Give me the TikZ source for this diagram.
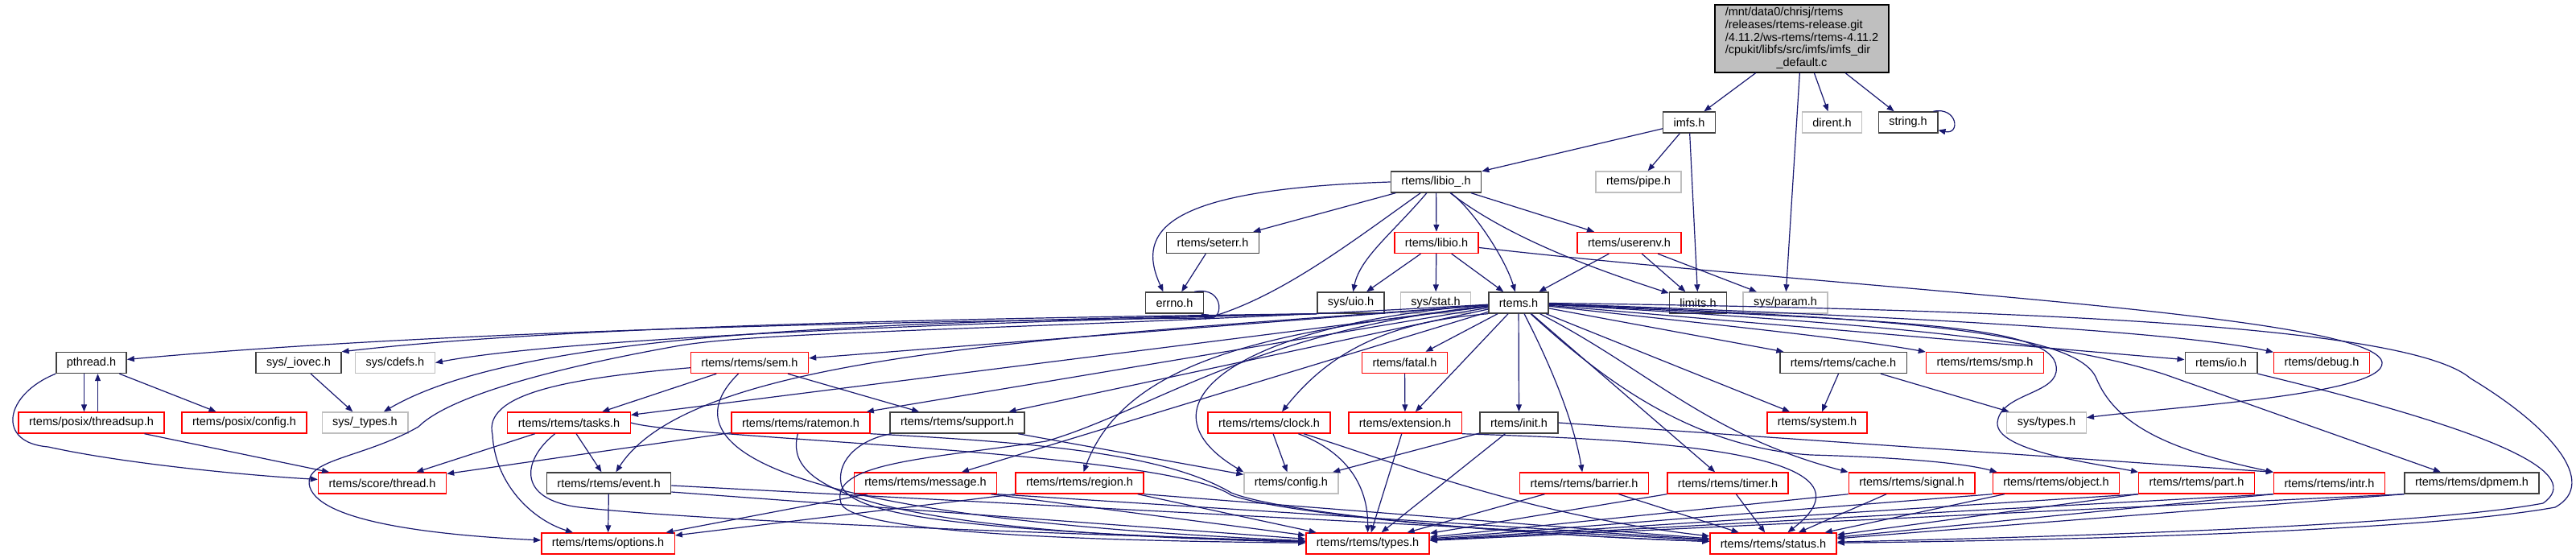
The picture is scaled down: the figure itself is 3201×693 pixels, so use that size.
\documentclass[tikz,border=0pt]{standalone}
\usepackage{fontspec}
\setmainfont{Liberation Sans}
\usetikzlibrary{arrows.meta}
\definecolor{edgeblue}{HTML}{191970}
\definecolor{nodegrey}{HTML}{BFBFBF}
\newcommand{\hdrfont}{\fontsize{14.5pt}{15.6pt}\selectfont}
\begin{document}
\begin{tikzpicture}
[
x=1pt, y=-1pt,
every node/.style={font=\hdrfont},
Plain/.style={rectangle, draw=black!75, fill=white, line width=1.4pt, inner xsep=13pt, inner ysep=0pt, minimum height=26pt},
Trunc/.style={Plain, draw=red},
Extern/.style={Plain, draw=nodegrey},
Root/.style={Plain, draw=black, fill=nodegrey, minimum width=216pt, minimum height=84pt, inner xsep=0pt},
Dep/.style={-{Triangle[length=9pt,width=7pt]}, draw=edgeblue, line width=1.2pt}
]
\path[use as bounding box, fill=white] (0,0) rectangle (3201,693);

\node[Root] (main) at (2239,48) {\begin{tabular}{@{}l@{}}/mnt/data0/chrisj/rtems\\/releases/rtems-release.git\\/4.11.2/ws-rtems/rtems-4.11.2\\/cpukit/libfs/src/imfs/imfs\_dir\\\multicolumn{1}{@{}c@{}}{\_default.c}\end{tabular}};

\node[Plain]  (imfs)      at (2099,152)     {imfs.h};
\node[Extern] (dirent)    at (2276.5,152)   {dirent.h};
\node[Plain]  (strh)      at (2371,152)     {string.h};
\node[Plain]  (libiou)    at (1784.5,226)   {rtems/libio\_.h};
\node[Extern] (pipe)      at (2036,226)     {rtems/pipe.h};
\node[Plain]  (seterr)    at (1507,301.5)   {rtems/seterr.h};
\node[Trunc]  (libio)     at (1785,301.5)   {rtems/libio.h};
\node[Trunc]  (userenv)   at (2024.5,301.5) {rtems/userenv.h};
\node[Plain]  (errno)     at (1459.5,376)   {errno.h};
\node[Plain]  (uio)       at (1678.5,376)   {sys/uio.h};
\node[Extern] (stat)      at (1784,376)     {sys/stat.h};
\node[Plain]  (rtems)     at (1887,376)     {rtems.h};
\node[Plain]  (limits)    at (2110,376)     {limits.h};
\node[Extern] (param)     at (2218.5,376)   {sys/param.h};
\node[Plain]  (pthread)   at (113.5,450.5)  {pthread.h};
\node[Plain]  (iovec)     at (371,450.5)    {sys/\_iovec.h};
\node[Extern] (cdefs)     at (491,450.5)    {sys/cdefs.h};
\node[Trunc]  (sem)       at (931.5,450.5)  {rtems/rtems/sem.h};
\node[Trunc]  (fatal)     at (1745.5,450.5) {rtems/fatal.h};
\node[Plain]  (cache)     at (2290.5,450.5) {rtems/rtems/cache.h};
\node[Trunc]  (smp)       at (2466.5,450.5) {rtems/rtems/smp.h};
\node[Plain]  (io)        at (2760,450.5)   {rtems/io.h};
\node[Trunc]  (debug)     at (2885,450.5)   {rtems/debug.h};
\node[Trunc]  (threadsup) at (113.5,525)    {rtems/posix/threadsup.h};
\node[Trunc]  (pconfig)   at (303.5,525)    {rtems/posix/config.h};
\node[Extern] (stypes)    at (453.5,525)    {sys/\_types.h};
\node[Trunc]  (tasks)     at (707,525)      {rtems/rtems/tasks.h};
\node[Trunc]  (ratemon)   at (995,525)      {rtems/rtems/ratemon.h};
\node[Plain]  (support)   at (1189.5,525)   {rtems/rtems/support.h};
\node[Trunc]  (clock)     at (1577,525)     {rtems/rtems/clock.h};
\node[Trunc]  (extension) at (1746,525)     {rtems/extension.h};
\node[Plain]  (init)      at (1887.5,525)   {rtems/init.h};
\node[Trunc]  (system)    at (2258,525)     {rtems/system.h};
\node[Extern] (systypes)  at (2543,525)     {sys/types.h};
\node[Trunc]  (thread)    at (475,600)      {rtems/score/thread.h};
\node[Plain]  (event)     at (756.5,600)    {rtems/rtems/event.h};
\node[Trunc]  (message)   at (1150,600)     {rtems/rtems/message.h};
\node[Trunc]  (region)    at (1341.5,600)   {rtems/rtems/region.h};
\node[Extern] (config)    at (1604.5,600)   {rtems/config.h};
\node[Trunc]  (barrier)   at (1968.5,600)   {rtems/rtems/barrier.h};
\node[Trunc]  (timer)     at (2147,600)     {rtems/rtems/timer.h};
\node[Trunc]  (signal)    at (2375.5,600)   {rtems/rtems/signal.h};
\node[Trunc]  (object)    at (2555,600)     {rtems/rtems/object.h};
\node[Trunc]  (part)      at (2729.5,600)   {rtems/rtems/part.h};
\node[Trunc]  (intr)      at (2894.5,600)   {rtems/rtems/intr.h};
\node[Plain]  (dpmem)     at (3071.5,600)   {rtems/rtems/dpmem.h};
\node[Trunc]  (options)   at (755.5,675)    {rtems/rtems/options.h};
\node[Trunc]  (types)     at (1699.5,675)   {rtems/rtems/types.h};
\node[Trunc]  (status)    at (2203.5,675)   {rtems/rtems/status.h};

\draw[Dep] (main) -- (imfs);
\draw[Dep] (main) -- (dirent);
\draw[Dep] (main) -- (strh);
\draw[Dep] (main) -- (param);
\draw[Dep] ([xshift=-6pt]strh.north east) .. controls +(30,-6) and +(28,6) .. ([yshift=4pt]strh.south east);

\draw[Dep] (imfs) -- (libiou);
\draw[Dep] (imfs) -- (pipe);
\draw[Dep] (imfs) -- (limits);

\draw[Dep] (libiou.west) .. controls (1450,235) and (1410,285) .. ([xshift=-14pt]errno.north);
\draw[Dep] (libiou) -- (seterr);
\draw[Dep] (libiou) .. controls (1730,290) and (1690,320) .. (uio);
\draw[Dep] (libiou) .. controls (1680,300) and (1590,370) .. (1500,395) .. controls (1000,400) and (500,415) .. (pthread);
\draw[Dep] (libiou) -- (libio);
\draw[Dep] (libiou) .. controls (1830,260) and (1870,320) .. (rtems);
\draw[Dep] (libiou) .. controls (1880,300) and (2000,340) .. (limits);
\draw[Dep] (libiou) -- (userenv);

\draw[Dep] (seterr) -- (errno);
\draw[Dep] ([xshift=-12pt]errno.north east) .. controls +(40,-8) and +(28,14) .. ([xshift=-4pt]errno.south east);

\draw[Dep] (libio) -- (uio);
\draw[Dep] (libio) -- (stat);
\draw[Dep] (libio) -- (rtems);
\draw[Dep] (libio) .. controls (2300,360) and (2950,390) .. (2960,450) .. controls (2965,490) and (2700,505) .. (systypes);

\draw[Dep] (userenv) -- (rtems);
\draw[Dep] (userenv) -- (limits);
\draw[Dep] (userenv) -- (param);

\draw[Dep] (uio.south west) .. controls (1200,395) and (700,405) .. (iovec.north east);
\draw[Dep] (uio.south west) .. controls (1200,400) and (700,420) .. (cdefs.east);
\draw[Dep] (uio.south west) .. controls (1100,400) and (650,410) .. (stypes);
\draw[Dep] (iovec) -- (stypes);

\draw[Dep] ([xshift=-9pt]pthread.south) -- ([xshift=-9pt]threadsup.north);
\draw[Dep] ([xshift=8pt]threadsup.north) -- ([xshift=8pt]pthread.south);
\draw[Dep] (pthread) -- (pconfig);
\draw[Dep] (pthread.south west) .. controls (5,490) and (-5,550) .. (60,555) .. controls (150,575) and (300,590) .. (thread);
\draw[Dep] (threadsup) -- (thread);

\draw[Dep] (rtems) -- (fatal);
\draw[Dep] (rtems.south west) .. controls (1720,400) and (1650,440) .. ([xshift=16pt]clock.north);
\draw[Dep] (rtems) -- (extension);
\draw[Dep] (rtems) -- (init);
\draw[Dep] (rtems) .. controls (1925,450) and (1955,520) .. (barrier);
\draw[Dep] (rtems) -- (timer);
\draw[Dep] (rtems) .. controls (2050,460) and (2120,540) .. (signal.north west);
\draw[Dep] (rtems) .. controls (1990,470) and (2100,555) .. (2250,565) .. controls (2360,568) and (2440,575) .. ([xshift=6pt]object.north west);
\draw[Dep] (rtems) -- (system);
\draw[Dep] (rtems) -- (cache);
\draw[Dep] (rtems) .. controls (2100,400) and (2300,420) .. (smp);
\draw[Dep] (rtems) -- (io);
\draw[Dep] (rtems) .. controls (2300,390) and (2700,410) .. (debug);
\draw[Dep] (rtems) .. controls (2300,400) and (2550,420) .. (2690,465) -- (dpmem);
\draw[Dep] (rtems) .. controls (2350,400) and (2565,400) .. (2555,462) .. controls (2550,490) and (2485,490) .. (2482,525) .. controls (2480,560) and (2600,575) .. (part.north west);
\draw[Dep] (rtems) .. controls (2350,395) and (2580,410) .. (2605,470) .. controls (2630,530) and (2700,560) .. (intr.north west);
\draw[Dep] (rtems) .. controls (2600,385) and (3000,410) .. (3070,470) .. controls (3170,530) and (3230,600) .. (3175,630) .. controls (3000,662) and (2500,672) .. (status);
\draw[Dep] (rtems) -- (message);
\draw[Dep] (rtems) .. controls (1600,410) and (1400,440) .. (region);
\draw[Dep] (rtems) .. controls (1550,400) and (1400,500) .. (config.north west);
\draw[Dep] (rtems) -- (support);
\draw[Dep] (rtems) -- (ratemon);
\draw[Dep] (rtems) -- (sem);
\draw[Dep] (rtems) -- (tasks);
\draw[Dep] (rtems) .. controls (1300,420) and (860,440) .. (event);
\draw[Dep] (rtems) .. controls (1300,410) and (950,410) .. (840,430) .. controls (700,455) and (560,490) .. (520,530) .. controls (450,570) and (375,570) .. (385,605) .. controls (400,650) and (550,665) .. (options);
\draw[Dep] (rtems) .. controls (1560,410) and (1430,510) .. (1300,548) .. controls (1150,570) and (1030,575) .. (1045,625) .. controls (1060,665) and (1400,672) .. (types);

\draw[Dep] (sem) -- (tasks);
\draw[Dep] (sem) -- (support);
\draw[Dep] (sem) .. controls (700,470) and (600,490) .. (612,540) .. controls (615,600) and (660,645) .. (options);
\draw[Dep] (sem) .. controls (840,540) and (900,640) .. (types);

\draw[Dep] (tasks) -- (thread);
\draw[Dep] (tasks) -- (event);
\draw[Dep] (tasks) .. controls (650,570) and (640,620) .. (720,630) .. controls (900,650) and (1400,665) .. (types);
\draw[Dep] (tasks.east) .. controls (850,545) and (1450,560) .. (1530,615) .. controls (1600,640) and (1900,665) .. (status);

\draw[Dep] (ratemon) -- (thread);
\draw[Dep] (ratemon) .. controls (975,600) and (1050,660) .. (types);
\draw[Dep] (ratemon.south east) .. controls (1300,550) and (1450,565) .. (1530,612) .. controls (1600,640) and (1900,665) .. (status);

\draw[Dep] (support) .. controls (1070,545) and (1040,570) .. (1045,600) .. controls (1050,640) and (1200,660) .. (types);
\draw[Dep] (support) -- (config);

\draw[Dep] (event) -- (options);
\draw[Dep] ([yshift=-3pt]event.east) -- (status);
\draw[Dep] ([yshift=-11pt]event.east) -- (types);

\draw[Dep] (message) -- (options);
\draw[Dep] ([xshift=-8pt]message.south east) -- (types);
\draw[Dep] (message.south east) -- (status);
\draw[Dep] (region.south west) -- (options);
\draw[Dep] ([xshift=-8pt]region.south east) -- (types);
\draw[Dep] (region.south east) -- (status);

\draw[Dep] (clock) -- (config);
\draw[Dep] (clock) .. controls (1670,560) and (1700,600) .. (types);
\draw[Dep] (clock) .. controls (1750,580) and (1900,640) .. (status);
\draw[Dep] (fatal) -- (extension);
\draw[Dep] (extension) -- (types);
\draw[Dep] (extension.south east) .. controls (2000,545) and (2360,555) .. (status);
\draw[Dep] (init) -- (config);
\draw[Dep] (init) -- (types);
\draw[Dep] (init.east) -- (intr.north west);

\draw[Dep] (barrier) -- (types);
\draw[Dep] (barrier) -- (status);
\draw[Dep] (timer.south west) -- (types);
\draw[Dep] (timer) -- (status);
\draw[Dep] (signal.south west) -- (types);
\draw[Dep] (signal) -- (status);
\draw[Dep] (object.south west) -- (types);
\draw[Dep] (object) -- (status);
\draw[Dep] (part.south west) -- (types);
\draw[Dep] (part.south west) -- (status);
\draw[Dep] (intr.south west) -- (types);
\draw[Dep] (intr.south west) -- (status);
\draw[Dep] (dpmem.south west) -- (types);
\draw[Dep] (dpmem.south west) -- (status);

\draw[Dep] (cache) -- (system);
\draw[Dep] (cache) -- (systypes);
\draw[Dep] (io.south east) .. controls (3120,540) and (3210,590) .. (3160,625) .. controls (3000,655) and (2500,668) .. (status);
\end{tikzpicture}
\end{document}
